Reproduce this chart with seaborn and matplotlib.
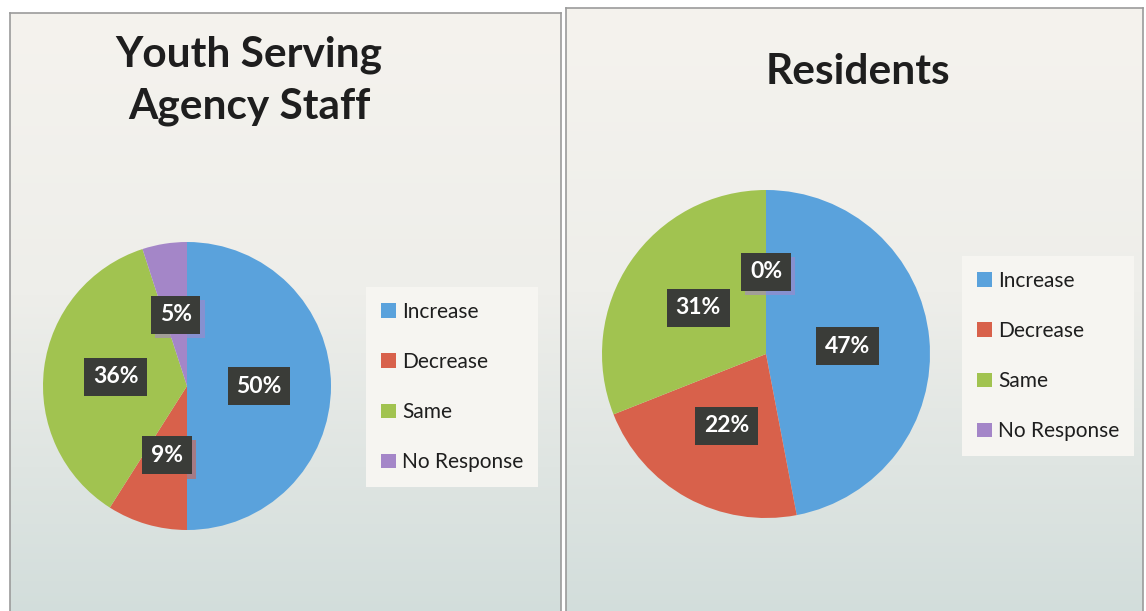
import numpy as np
import seaborn as sns
import matplotlib.pyplot as plt
import matplotlib.patheffects as pe
from matplotlib.colors import LinearSegmentedColormap

# data
categories = ['Increase', 'Decrease', 'Same', 'No Response']
staff_pct = [50, 9, 36, 5]
residents_pct = [47, 22, 31, 0]
titles = ['Youth Serving\nAgency Staff', 'Residents']

sns.set_theme(style='white')
plt.rcParams['font.family'] = ['Lato', 'DejaVu Sans']
colors = sns.color_palette(['#5aa2dc', '#d8614b', '#a1c350', '#a486c8'])

W, H = 1146, 611
fig = plt.figure(figsize=(W / 100, H / 100), dpi=100)
fig.patch.set_facecolor('white')


def px(x0, y0, x1, y1):
    # pixel box (top-left origin) -> figure fraction rect
    return [x0 / W, 1 - y1 / H, (x1 - x0) / W, (y1 - y0) / H]


grad = LinearSegmentedColormap.from_list(
    'bg', [(0, '#f5f3ee'), (0.45, '#eeeeea'), (1, '#d0dcda')])


def panel(box, pie_c, pie_r, title, title_xy, values, leg_xy):
    bg = fig.add_axes(px(*box))
    bg.imshow(np.linspace(0, 1, 256)[:, None], cmap=grad, aspect='auto',
              extent=[0, 1, 0, 1])
    bg.set_xticks([])
    bg.set_yticks([])
    for s in bg.spines.values():
        s.set_color('#9b9b9b')
        s.set_linewidth(1.2)

    cx, cy = pie_c
    ax = fig.add_axes(px(cx - pie_r, cy - pie_r, cx + pie_r, cy + pie_r))
    wedges, _, autotexts = ax.pie(
        values, colors=colors, startangle=90, counterclock=False,
        autopct=lambda p: f'{p:.0f}%', pctdistance=0.5, radius=1,
        wedgeprops=dict(linewidth=0))
    ax.set_xlim(-1, 1)
    ax.set_ylim(-1, 1)
    ax.axis('off')
    for t, c in zip(autotexts, colors):
        t.set_color('white')
        t.set_fontsize(16.5)
        t.set_fontweight('bold')
        t.set_bbox(dict(boxstyle='square,pad=0.38', facecolor='#3a3c38',
                        edgecolor='none'))
        t.get_bbox_patch().set_path_effects([
            pe.SimplePatchShadow(offset=(3, -3), shadow_rgbFace=c, alpha=0.6),
            pe.Normal()])

    fig.text(title_xy[0] / W, 1 - title_xy[1] / H, title, ha='center',
             va='center', fontsize=30.5, fontweight='bold', color='#1e1e1e',
             linespacing=1.45)

    leg = ax.legend(wedges, categories, loc='center left',
                    bbox_to_anchor=(leg_xy[0] / W, 1 - leg_xy[1] / H),
                    bbox_transform=fig.transFigure, fontsize=15,
                    frameon=True, fancybox=False, framealpha=1,
                    facecolor='#f6f5f1', edgecolor='none',
                    handlelength=0.7, handleheight=0.7, handletextpad=0.3,
                    labelspacing=1.45, borderpad=0.7)
    for txt in leg.get_texts():
        txt.set_color('#1e1e1e')


panel((10, 13, 561, 640), (187, 386), 144, titles[0], (249, 81),
      staff_pct, (356, 387))
panel((566, 8, 1143, 640), (766, 354), 164, titles[1], (858, 72),
      residents_pct, (952, 356))

fig.savefig('out.png', dpi=100)
